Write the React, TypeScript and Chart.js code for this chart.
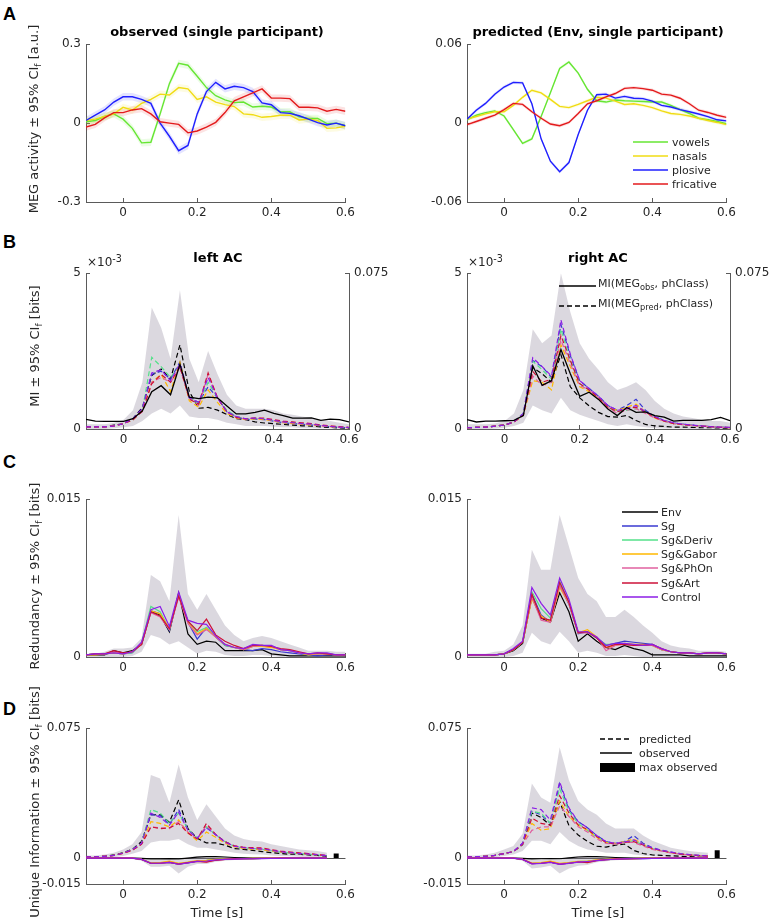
import React, { useEffect, useRef } from 'react';
import { Chart, registerables } from 'chart.js';

Chart.register(...registerables);

// ---------- shared axes ----------
const TIME = [-0.1,-0.075,-0.05,-0.025,0,0.025,0.05,0.075,0.1,0.125,0.15,0.175,0.2,0.225,0.25,0.275,0.3,0.325,0.35,0.375,0.4,0.425,0.45,0.475,0.5,0.525,0.55,0.575,0.6];
const TIME_D = [-0.1,-0.075,-0.05,-0.025,0,0.025,0.05,0.075,0.1,0.125,0.15,0.175,0.2,0.225,0.25,0.275,0.3,0.325,0.35,0.375,0.4,0.425,0.45,0.475,0.5,0.525,0.55];
const X_TICKS = [0, 0.2, 0.4, 0.6];
const X_TICK_LABELS = ['0', '0.2', '0.4', '0.6'];

// ---------- panel A : phoneme classes ----------
const PH_CLASSES = ['vowels', 'nasals', 'plosive', 'fricative'];
const PH_COLORS = ['#66e633', '#f0dc14', '#1f1fff', '#e31a1c'];
const obsVowels = [0.005,0.01,0.025,0.035,0.015,-0.02,-0.075,-0.073,0.035,0.15,0.227,0.22,0.178,0.135,0.104,0.088,0.078,0.08,0.061,0.064,0.061,0.043,0.043,0.024,0.018,0.018,-0.002,0,-0.01];
const obsNasals = [0.01,0.015,0.025,0.035,0.06,0.05,0.075,0.09,0.11,0.107,0.135,0.13,0.09,0.1,0.08,0.07,0.063,0.035,0.032,0.022,0.025,0.03,0.03,0.012,0.015,0.01,-0.02,-0.018,-0.012];
const obsPlosive = [0.01,0.03,0.05,0.08,0.1,0.1,0.09,0.075,0,-0.05,-0.105,-0.085,0.035,0.12,0.155,0.13,0.14,0.135,0.12,0.077,0.07,0.04,0.037,0.028,0.015,0.002,-0.007,0,-0.01];
const obsFricative = [-0.015,-0.005,0.02,0.04,0.04,0.05,0.055,0.035,0.005,0,-0.005,-0.037,-0.03,-0.015,0.003,0.04,0.085,0.1,0.115,0.13,0.095,0.095,0.093,0.06,0.06,0.058,0.045,0.052,0.045];
const predVowels = [0.0025,0.006,0.008,0.0093,0.0054,-0.005,-0.0154,-0.012,0.005,0.023,0.0416,0.0465,0.038,0.0257,0.017,0.016,0.0176,0.017,0.0167,0.0164,0.016,0.016,0.0135,0.0103,0.0073,0.0037,0.0025,0.0012,-0.0005];
const predNasals = [0.003,0.005,0.007,0.0086,0.0086,0.0135,0.0196,0.025,0.023,0.018,0.0127,0.0118,0.0142,0.017,0.0196,0.019,0.0167,0.0142,0.0147,0.0135,0.0118,0.0093,0.0073,0.0066,0.0054,0.0037,0.002,0.0005,-0.0012];
const predPlosive = [0.003,0.0098,0.015,0.022,0.0274,0.031,0.0306,0.0147,-0.012,-0.029,-0.037,-0.03,-0.0086,0.0098,0.0216,0.022,0.019,0.0203,0.0189,0.0186,0.0167,0.0135,0.0122,0.0103,0.0086,0.0069,0.0049,0.0025,0.0017];
const predFricative = [-0.0012,0.0012,0.0037,0.006,0.0103,0.015,0.0142,0.0086,0.0037,-0.0007,-0.002,0.0005,0.0073,0.0147,0.017,0.02,0.0225,0.0264,0.027,0.0262,0.025,0.022,0.0213,0.0189,0.0147,0.0098,0.0081,0.006,0.0044];
const CI_OBS = 0.014;
const CI_PRED = 0.0013;

// ---------- models ----------
const MODELS = ['Env', 'Sg', 'Sg&Deriv', 'Sg&Gabor', 'Sg&PhOn', 'Sg&Art', 'Control'];
const MODEL_COLORS = ['#000000', '#3a3ad0', '#55e08a', '#ffb800', '#e0609f', '#cc1238', '#8c1ee6'];

// ---------- panel B : MI (obs in 1e-3 bits, pred in bits) ----------
const miObsLeft = [0.31,0.255,0.245,0.245,0.245,0.33,0.585,1.2,1.39,1.1,2.08,1.02,0.975,1.02,1.0,0.74,0.485,0.485,0.535,0.605,0.5,0.43,0.35,0.35,0.36,0.28,0.32,0.3,0.225];
const miPredLeft_Env = [0.001,0.001,0.001,0.0019,0.0026,0.005,0.0104,0.0258,0.0289,0.024,0.0405,0.018,0.01,0.0104,0.0091,0.007,0.005,0.0045,0.0034,0.0029,0.0026,0.0022,0.0019,0.0015,0.0014,0.001,0.0008,0.0005,0.0003];
const miPredLeft_Sg = [0.001,0.001,0.001,0.0015,0.0026,0.005,0.0098,0.0263,0.0278,0.024,0.0323,0.015,0.0128,0.0203,0.015,0.0083,0.006,0.0045,0.0049,0.0045,0.0038,0.003,0.0026,0.0023,0.0019,0.0015,0.0011,0.0008,0.0006];
const miPredLeft_Deriv = [0.001,0.001,0.001,0.0015,0.0026,0.0045,0.009,0.0345,0.03,0.0248,0.0308,0.015,0.012,0.0225,0.015,0.009,0.006,0.0049,0.0053,0.0049,0.0041,0.0034,0.003,0.0026,0.0023,0.0017,0.0012,0.0009,0.0007];
const miPredLeft_Gabor = [0.001,0.001,0.001,0.0015,0.0026,0.0045,0.009,0.0225,0.0263,0.018,0.0323,0.0135,0.0105,0.0188,0.0128,0.0075,0.0053,0.0045,0.0049,0.0045,0.0038,0.003,0.0026,0.0023,0.0019,0.0015,0.0011,0.0008,0.0006];
const miPredLeft_PhOn = [0.001,0.001,0.001,0.0015,0.0026,0.0045,0.0085,0.0225,0.0248,0.0225,0.0293,0.015,0.0113,0.0263,0.015,0.0083,0.0056,0.0049,0.0053,0.0049,0.0041,0.0034,0.003,0.0026,0.0023,0.0017,0.0012,0.0009,0.0007];
const miPredLeft_Art = [0.001,0.001,0.001,0.0015,0.0026,0.0045,0.0085,0.0218,0.0263,0.0225,0.03,0.0143,0.012,0.027,0.015,0.0083,0.0056,0.0049,0.0053,0.0053,0.0045,0.0038,0.0034,0.003,0.0026,0.0019,0.0015,0.0011,0.0008];
const miPredLeft_Control = [0.001,0.001,0.001,0.0015,0.0026,0.005,0.0098,0.027,0.0285,0.0233,0.0315,0.015,0.0128,0.0248,0.015,0.0083,0.006,0.0049,0.0053,0.0049,0.0041,0.0034,0.003,0.0026,0.0023,0.0017,0.0012,0.0009,0.0007];
const miBandLeftUp = [0.0023,0.0023,0.0023,0.003,0.0045,0.009,0.0225,0.0585,0.0488,0.0338,0.0668,0.0338,0.0225,0.0375,0.0263,0.0165,0.0113,0.0098,0.0098,0.0098,0.009,0.0075,0.0068,0.006,0.0053,0.0045,0.0038,0.003,0.0023];
const miBandLeftLo = [0,0,0,0.0004,0.0008,0.0015,0.0038,0.0075,0.0098,0.0075,0.0113,0.006,0.0053,0.0053,0.0045,0.003,0.0023,0.0015,0.0015,0.0015,0.0011,0.0008,0.0008,0.0004,0.0004,0.0002,0.0002,0.0001,0];

const miObsRight = [0.3,0.225,0.25,0.25,0.265,0.275,0.43,2.03,1.4,1.55,2.55,1.77,1.05,1.18,0.95,0.64,0.43,0.69,0.535,0.55,0.43,0.38,0.25,0.275,0.275,0.275,0.3,0.37,0.265];
const miPredRight_Env = [0.0006,0.0008,0.0009,0.0014,0.0019,0.0034,0.0068,0.0296,0.0266,0.0225,0.0358,0.0203,0.015,0.0111,0.008,0.006,0.0057,0.0065,0.0041,0.0022,0.0015,0.0012,0.0009,0.0009,0.0008,0.0006,0.0006,0.0005,0.0003];
const miPredRight_Sg = [0.0006,0.0008,0.0009,0.0014,0.0019,0.0034,0.0075,0.033,0.03,0.0248,0.0503,0.0353,0.0233,0.0195,0.0158,0.0113,0.009,0.0113,0.0143,0.009,0.006,0.0041,0.003,0.0023,0.0019,0.0015,0.0011,0.0009,0.0008];
const miPredRight_Deriv = [0.0006,0.0008,0.0009,0.0014,0.0019,0.0034,0.0075,0.0327,0.0285,0.024,0.048,0.033,0.0218,0.0188,0.015,0.0105,0.0083,0.009,0.0098,0.0083,0.0056,0.0038,0.0026,0.0021,0.0017,0.0014,0.0011,0.0008,0.0007];
const miPredRight_Gabor = [0.0006,0.0008,0.0009,0.0014,0.0019,0.0034,0.0068,0.0233,0.0225,0.0188,0.0405,0.03,0.0203,0.018,0.015,0.0105,0.009,0.0105,0.012,0.0083,0.0053,0.0038,0.0026,0.0021,0.0017,0.0014,0.0011,0.0008,0.0007];
const miPredRight_PhOn = [0.0006,0.0008,0.0009,0.0014,0.0019,0.0034,0.0068,0.0255,0.021,0.0225,0.0428,0.0315,0.021,0.0188,0.015,0.0105,0.0075,0.009,0.0098,0.0075,0.0053,0.0038,0.0026,0.0021,0.0017,0.0014,0.0011,0.0008,0.0007];
const miPredRight_Art = [0.0006,0.0008,0.0009,0.0014,0.0019,0.0034,0.0068,0.0278,0.0225,0.024,0.045,0.033,0.0218,0.0188,0.015,0.0105,0.0083,0.0098,0.0105,0.0083,0.0056,0.0038,0.0026,0.0021,0.0017,0.0014,0.0011,0.0008,0.0007];
const miPredRight_Control = [0.0006,0.0008,0.0009,0.0014,0.0019,0.0034,0.0075,0.0343,0.03,0.0255,0.0525,0.036,0.0233,0.0195,0.0158,0.0113,0.009,0.0098,0.0113,0.0083,0.006,0.0041,0.003,0.0023,0.0019,0.0015,0.0011,0.0009,0.0008];
const miBandRightUp = [0.0023,0.0023,0.0023,0.0026,0.0038,0.0075,0.0188,0.048,0.0413,0.045,0.075,0.0563,0.0413,0.0338,0.0285,0.0225,0.0188,0.0203,0.0225,0.0188,0.0135,0.0098,0.0075,0.006,0.0053,0.0045,0.0038,0.0038,0.003];
const miBandRightLo = [0,0,0,0.0002,0.0006,0.0015,0.003,0.0113,0.009,0.0075,0.015,0.009,0.0068,0.0053,0.0038,0.0023,0.0015,0.0023,0.0015,0.0008,0.0004,0.0002,0.0002,0.0001,0,0,0,0,0];

// ---------- panel C : redundancy (bits) ----------
const redLeft_Env = [0.0002,0.0002,0.0002,0.0006,0.0004,0.0006,0.0012,0.0043,0.004,0.0024,0.0061,0.0022,0.0012,0.0015,0.0014,0.0006,0.0006,0.0006,0.0006,0.0007,0.0003,0.0002,0.0001,0.0001,0.0001,0.0001,0.0001,0.0001,0.0001];
const redLeft_Sg = [0.0002,0.0003,0.0003,0.0004,0.0003,0.0004,0.0013,0.0044,0.0041,0.0025,0.006,0.0033,0.0017,0.0028,0.0019,0.0011,0.0009,0.0007,0.0006,0.0008,0.0007,0.0005,0.0004,0.0003,0.0002,0.0001,0.0002,0.0002,0.0002];
const redLeft_Deriv = [0.0002,0.0003,0.0003,0.0004,0.0003,0.0004,0.0013,0.0048,0.0043,0.0026,0.0059,0.0034,0.0024,0.0028,0.002,0.0011,0.0009,0.0007,0.001,0.0011,0.001,0.0007,0.0006,0.0004,0.0002,0.0003,0.0003,0.0002,0.0002];
const redLeft_Gabor = [0.0002,0.0002,0.0003,0.0004,0.0003,0.0005,0.0013,0.0044,0.0041,0.0027,0.0059,0.0033,0.0022,0.0027,0.0019,0.0012,0.0009,0.0007,0.001,0.001,0.0009,0.0007,0.0006,0.0004,0.0002,0.0003,0.0003,0.0002,0.0002];
const redLeft_PhOn = [0.0002,0.0003,0.0003,0.0005,0.0003,0.0005,0.0012,0.0042,0.0038,0.0026,0.0057,0.0032,0.0021,0.0026,0.0019,0.0012,0.0009,0.0007,0.001,0.0011,0.001,0.0007,0.0006,0.0004,0.0003,0.0003,0.0003,0.0002,0.0002];
const redLeft_Art = [0.0002,0.0003,0.0003,0.0006,0.0004,0.0005,0.0012,0.0043,0.0039,0.0027,0.0058,0.0034,0.0025,0.0036,0.0021,0.0015,0.0011,0.0008,0.0011,0.0011,0.001,0.0008,0.0007,0.0005,0.0003,0.0004,0.0003,0.0002,0.0002];
const redLeft_Control = [0.0002,0.0003,0.0003,0.0004,0.0003,0.0005,0.0014,0.0045,0.0048,0.0029,0.0062,0.0035,0.0032,0.0031,0.002,0.0012,0.0009,0.0008,0.0012,0.0011,0.0011,0.0007,0.0006,0.0004,0.0003,0.0004,0.0004,0.0002,0.0002];
const redBandLeftUp = [0.0003,0.0003,0.0005,0.0008,0.0008,0.0009,0.0018,0.0078,0.0072,0.0053,0.0135,0.006,0.0045,0.006,0.0045,0.003,0.0021,0.0015,0.0018,0.002,0.0018,0.0015,0.0012,0.0009,0.0006,0.0006,0.0006,0.0005,0.0005];
const redBandLeftLo = [0,0,0,0,0,0.0001,0.0005,0.0021,0.0018,0.0012,0.0015,0.0009,0.0003,0.0006,0.0005,0.0002,0.0001,0.0001,0.0002,0.0002,0.0001,0,0,0,0,0,0,0,0];

const redRight_Env = [0.0002,0.0002,0.0002,0.0002,0.0003,0.0006,0.0013,0.0057,0.0037,0.0033,0.0061,0.0043,0.0015,0.0022,0.0015,0.0009,0.0007,0.0011,0.0008,0.0006,0.0002,0.0002,0.0002,0.0002,0.0001,0.0001,0.0001,0.0001,0.0001];
const redRight_Sg = [0.0002,0.0002,0.0002,0.0002,0.0003,0.0007,0.0014,0.006,0.004,0.0033,0.0068,0.005,0.0022,0.0024,0.0018,0.0011,0.0013,0.0015,0.0014,0.0013,0.0012,0.0007,0.0005,0.0004,0.0004,0.0003,0.0004,0.0004,0.0003];
const redRight_Deriv = [0.0002,0.0002,0.0002,0.0002,0.0003,0.0007,0.0014,0.0062,0.0046,0.0037,0.0072,0.0052,0.0023,0.0024,0.0018,0.0012,0.0012,0.0012,0.0011,0.0011,0.0011,0.0007,0.0005,0.0004,0.0004,0.0003,0.0004,0.0004,0.0003];
const redRight_Gabor = [0.0002,0.0002,0.0002,0.0002,0.0003,0.0007,0.0014,0.0055,0.0039,0.0033,0.0066,0.0051,0.0023,0.0026,0.0019,0.0009,0.0011,0.0013,0.0012,0.0012,0.0011,0.0007,0.0005,0.0004,0.0004,0.0003,0.0004,0.0004,0.0003];
const redRight_PhOn = [0.0002,0.0002,0.0002,0.0002,0.0003,0.0007,0.0014,0.0057,0.0035,0.0033,0.0068,0.0051,0.0023,0.0023,0.0019,0.0006,0.0011,0.0012,0.0011,0.0011,0.0011,0.0007,0.0005,0.0004,0.0004,0.0003,0.0004,0.0004,0.0003];
const redRight_Art = [0.0002,0.0002,0.0002,0.0002,0.0003,0.0007,0.0014,0.006,0.0037,0.0035,0.0071,0.0052,0.0023,0.0024,0.0018,0.0009,0.0012,0.0012,0.0011,0.0011,0.0012,0.0008,0.0005,0.0004,0.0004,0.0003,0.0004,0.0004,0.0003];
const redRight_Control = [0.0002,0.0002,0.0002,0.0002,0.0003,0.0008,0.0015,0.0066,0.0051,0.004,0.0075,0.0055,0.0024,0.0024,0.0019,0.0011,0.0013,0.0013,0.0012,0.0011,0.0012,0.0008,0.0005,0.0004,0.0004,0.0003,0.0004,0.0004,0.0003];
const redBandRightUp = [0.0003,0.0003,0.0003,0.0005,0.0006,0.0012,0.003,0.0102,0.0083,0.0083,0.0135,0.0105,0.0075,0.006,0.0053,0.0038,0.0038,0.0045,0.0038,0.003,0.0023,0.0015,0.0011,0.0009,0.0008,0.0006,0.0006,0.0006,0.0005];
const redBandRightLo = [0,0,0,0,0,0.0001,0.0004,0.0023,0.0015,0.0012,0.0024,0.0015,0.0004,0.0006,0.0004,0.0001,0.0001,0.0002,0.0001,0,0,0,0,0,0,0,0,0,0];

// ---------- panel D : unique information (bits) ----------
const uniPredLeft_Env = [0.0007,0.0007,0.001,0.0018,0.003,0.005,0.0096,0.025,0.025,0.0207,0.0336,0.017,0.0114,0.0087,0.0087,0.0074,0.0055,0.005,0.0044,0.0037,0.0031,0.0026,0.0022,0.0022,0.0018,0.0015,0.0011];
const uniPredLeft_Sg = [0.0007,0.0007,0.001,0.0015,0.0028,0.0048,0.0085,0.025,0.0245,0.0195,0.028,0.0165,0.0115,0.0175,0.0135,0.0095,0.007,0.006,0.0055,0.005,0.0042,0.0035,0.003,0.0025,0.0022,0.0018,0.0012];
const uniPredLeft_Deriv = [0.0007,0.0007,0.001,0.0015,0.0028,0.0048,0.0085,0.028,0.026,0.02,0.026,0.0165,0.0115,0.018,0.0135,0.0095,0.0068,0.0058,0.0055,0.005,0.0042,0.0035,0.003,0.0025,0.0022,0.0018,0.0012];
const uniPredLeft_Gabor = [0.0007,0.0007,0.001,0.0015,0.0027,0.0045,0.0082,0.021,0.02,0.018,0.022,0.0145,0.01,0.015,0.012,0.0085,0.0065,0.0055,0.0052,0.0048,0.004,0.0034,0.003,0.0025,0.0022,0.0018,0.0012];
const uniPredLeft_PhOn = [0.0007,0.0007,0.001,0.0015,0.0027,0.0045,0.008,0.018,0.0175,0.017,0.021,0.015,0.011,0.019,0.0135,0.009,0.007,0.006,0.0058,0.0055,0.0045,0.0038,0.0033,0.0028,0.0025,0.002,0.0014];
const uniPredLeft_Art = [0.0007,0.0007,0.001,0.0015,0.0027,0.0045,0.008,0.018,0.017,0.0175,0.02,0.0145,0.011,0.02,0.0135,0.0095,0.007,0.0062,0.006,0.0058,0.0048,0.004,0.0035,0.003,0.0026,0.002,0.0014];
const uniPredLeft_Control = [0.0007,0.0007,0.001,0.0015,0.0028,0.0048,0.0085,0.026,0.0235,0.019,0.0265,0.016,0.0115,0.0175,0.0135,0.0092,0.0068,0.006,0.0055,0.0052,0.0045,0.0036,0.0031,0.0026,0.0023,0.0019,0.0013];
const uniObsLeft_Env = [0,0,0,0,0,0,-0.0002,-0.0005,-0.0005,-0.0003,-0.0005,0,0.0005,0.0008,0.0008,0.0006,0.0003,0.0001,0,0,0,0,0,0,0,0,0];
const uniObsLeft_Sg = [0,0,0,0,0,0,-0.0008,-0.003,-0.003,-0.0025,-0.0035,-0.0028,-0.0018,-0.0015,-0.001,-0.0007,-0.0005,-0.0004,-0.0003,-0.0002,-0.0002,-0.0001,-0.0001,-0.0001,0,0,0];
const uniObsLeft_Deriv = [0,0,0,0,0,0,-0.0007,-0.0028,-0.0028,-0.0022,-0.0032,-0.0025,-0.0017,-0.0014,-0.0009,-0.0006,-0.0004,-0.0003,-0.0003,-0.0002,-0.0002,-0.0001,-0.0001,0,0,0,0];
const uniObsLeft_Gabor = [0,0,0,0,0,0,-0.0007,-0.0028,-0.0026,-0.0018,-0.003,-0.0024,-0.0015,-0.0013,-0.0008,-0.0006,-0.0004,-0.0003,-0.0002,-0.0002,-0.0001,-0.0001,0,0,0,0,0];
const uniObsLeft_PhOn = [0,0,0,0,0,0,-0.0008,-0.003,-0.0029,-0.0024,-0.0034,-0.0026,-0.0018,-0.0022,-0.0012,-0.0008,-0.0005,-0.0004,-0.0003,-0.0002,-0.0002,-0.0001,-0.0001,0,0,0,0];
const uniObsLeft_Art = [0,0,0,0,0,0,-0.0008,-0.0031,-0.003,-0.0025,-0.0035,-0.0027,-0.0019,-0.0024,-0.0013,-0.0008,-0.0005,-0.0004,-0.0003,-0.0002,-0.0002,-0.0001,-0.0001,0,0,0,0];
const uniObsLeft_Control = [0,0,0,0,0,0,-0.0008,-0.003,-0.003,-0.0025,-0.0036,-0.0028,-0.0019,-0.0017,-0.0011,-0.0008,-0.0006,-0.0005,-0.0004,-0.0003,-0.0002,-0.0002,-0.0001,-0.0001,0,0,0];
const uniPredBandLeftUp = [0.0015,0.0015,0.002,0.003,0.005,0.008,0.015,0.048,0.046,0.032,0.054,0.035,0.022,0.031,0.024,0.017,0.013,0.011,0.01,0.0095,0.008,0.007,0.006,0.005,0.0045,0.004,0.003];
const uniPredBandLeftLo = [0,0,0.0002,0.0005,0.0012,0.0025,0.004,0.009,0.01,0.01,0.011,0.008,0.006,0.006,0.005,0.004,0.003,0.0025,0.0022,0.002,0.0015,0.0012,0.001,0.0008,0.0006,0.0005,0.0003];
const uniObsBandLeftUp = [0.0005,0.0005,0.0005,0.0005,0.0005,0.0005,0,-0.001,-0.001,-0.0005,-0.0008,0.0005,0.0012,0.0012,0.001,0.0008,0.0006,0.0004,0.0003,0.0002,0.0002,0.0002,0.0002,0.0001,0.0001,0.0001,0.0001];
const uniObsBandLeftLo = [-0.0005,-0.0005,-0.0005,-0.0005,-0.0005,-0.0006,-0.0015,-0.005,-0.005,-0.0045,-0.009,-0.005,-0.0035,-0.0035,-0.0022,-0.0016,-0.0012,-0.001,-0.0008,-0.0006,-0.0005,-0.0004,-0.0003,-0.0003,-0.0002,-0.0002,-0.0002];

const uniPredRight_Env = [0.0007,0.0008,0.001,0.0015,0.0026,0.0037,0.0077,0.026,0.0234,0.0188,0.0326,0.0188,0.0133,0.0096,0.0068,0.0063,0.0074,0.0081,0.0044,0.0026,0.0018,0.0015,0.0013,0.001,0.0008,0.0006,0.0004];
const uniPredRight_Sg = [0.0007,0.0008,0.001,0.0015,0.0026,0.0037,0.0085,0.027,0.025,0.02,0.043,0.028,0.021,0.0175,0.013,0.0095,0.0085,0.0095,0.013,0.0085,0.006,0.0045,0.0035,0.0025,0.002,0.0015,0.0012];
const uniPredRight_Deriv = [0.0007,0.0008,0.001,0.0015,0.0026,0.0037,0.008,0.027,0.026,0.02,0.04,0.027,0.02,0.016,0.012,0.009,0.008,0.009,0.01,0.0075,0.0055,0.0042,0.0032,0.0023,0.0018,0.0014,0.0011];
const uniPredRight_Gabor = [0.0007,0.0008,0.001,0.0015,0.0026,0.0037,0.008,0.02,0.016,0.017,0.033,0.024,0.019,0.016,0.012,0.009,0.0085,0.0095,0.011,0.008,0.0055,0.0042,0.0032,0.0023,0.0018,0.0014,0.0011];
const uniPredRight_PhOn = [0.0007,0.0008,0.001,0.0015,0.0026,0.0037,0.008,0.016,0.018,0.018,0.03,0.024,0.018,0.015,0.011,0.0085,0.008,0.009,0.009,0.007,0.005,0.004,0.003,0.0022,0.0018,0.0014,0.001];
const uniPredRight_Art = [0.0007,0.0008,0.001,0.0015,0.0026,0.0037,0.008,0.023,0.02,0.019,0.036,0.026,0.019,0.0165,0.0125,0.009,0.008,0.009,0.0095,0.0075,0.0055,0.0042,0.0032,0.0023,0.0018,0.0014,0.0011];
const uniPredRight_Control = [0.0007,0.0008,0.001,0.0015,0.0026,0.0037,0.0085,0.029,0.028,0.022,0.044,0.029,0.021,0.0175,0.013,0.0095,0.0085,0.0092,0.0105,0.008,0.0058,0.0044,0.0034,0.0025,0.002,0.0015,0.0012];
const uniObsRight_Env = [0,0,0,0,0,0,-0.0002,-0.0005,-0.0004,-0.0003,-0.0004,0.0001,0.0006,0.0008,0.0008,0.0006,0.0003,0.0001,0,0,0,0,0,0,0,0,0];
const uniObsRight_Sg = [0,0,0,0,0,0,-0.0008,-0.0033,-0.003,-0.0024,-0.0036,-0.003,-0.0023,-0.002,-0.0014,-0.0009,-0.0006,-0.0005,-0.0004,-0.0003,-0.0002,-0.0002,-0.0001,-0.0001,0,0,0];
const uniObsRight_Deriv = [0,0,0,0,0,0,-0.0007,-0.003,-0.0028,-0.0022,-0.0033,-0.0027,-0.002,-0.0018,-0.0012,-0.0008,-0.0005,-0.0004,-0.0003,-0.0002,-0.0002,-0.0001,-0.0001,0,0,0,0];
const uniObsRight_Gabor = [0,0,0,0,0,0,-0.0007,-0.0029,-0.0027,-0.0018,-0.0031,-0.0026,-0.0019,-0.0017,-0.0011,-0.0007,-0.0005,-0.0004,-0.0003,-0.0002,-0.0001,-0.0001,0,0,0,0,0];
const uniObsRight_PhOn = [0,0,0,0,0,0,-0.0008,-0.0031,-0.0029,-0.0023,-0.0034,-0.0029,-0.0022,-0.0024,-0.0014,-0.0009,-0.0006,-0.0004,-0.0003,-0.0002,-0.0002,-0.0001,-0.0001,0,0,0,0];
const uniObsRight_Art = [0,0,0,0,0,0,-0.0008,-0.0032,-0.003,-0.0024,-0.0036,-0.003,-0.0023,-0.0027,-0.0015,-0.0009,-0.0006,-0.0005,-0.0003,-0.0002,-0.0002,-0.0001,-0.0001,0,0,0,0];
const uniObsRight_Control = [0,0,0,0,0,0,-0.0008,-0.0034,-0.0031,-0.0025,-0.0037,-0.0031,-0.0024,-0.002,-0.0015,-0.001,-0.0007,-0.0005,-0.0004,-0.0003,-0.0002,-0.0002,-0.0001,-0.0001,0,0,0];
const uniPredBandRightUp = [0.0015,0.0015,0.002,0.003,0.005,0.007,0.014,0.043,0.035,0.032,0.064,0.045,0.033,0.028,0.025,0.02,0.017,0.017,0.017,0.013,0.01,0.008,0.006,0.005,0.004,0.0035,0.003];
const uniPredBandRightLo = [0,0,0.0002,0.0005,0.0012,0.002,0.004,0.01,0.01,0.008,0.015,0.01,0.007,0.005,0.004,0.003,0.003,0.003,0.002,0.0015,0.001,0.0008,0.0006,0.0005,0.0004,0.0003,0.0002];
const uniObsBandRightUp = [0.0005,0.0005,0.0005,0.0005,0.0005,0.0005,0,-0.0008,-0.001,-0.0005,-0.0008,0.0004,0.0012,0.0013,0.0011,0.0008,0.0006,0.0004,0.0003,0.0002,0.0002,0.0002,0.0002,0.0001,0.0001,0.0001,0.0001];
const uniObsBandRightLo = [-0.0005,-0.0005,-0.0005,-0.0005,-0.0005,-0.0006,-0.0016,-0.006,-0.0055,-0.0045,-0.009,-0.006,-0.0045,-0.004,-0.0025,-0.0018,-0.0013,-0.001,-0.0008,-0.0006,-0.0005,-0.0004,-0.0003,-0.0003,-0.0002,-0.0002,-0.0002];
const MAX_OBS_TIME = 0.575;
const maxObsLeft = 0.0026;
const maxObsRight = 0.0045;

// ---------- styling ----------
const FONT = '"DejaVu Sans", sans-serif';
const TXT = '#262626';
const AX = '#5a5a5a';
const BAND = 'rgba(135,125,150,0.3)';

const pts = (xs: number[], ys: number[]) => ys.map((y, i) => ({ x: xs[i], y }));

function line(xs: number[], ys: number[], color: string, opts: any = {}) {
  return {
    data: pts(xs, ys), borderColor: color, backgroundColor: color,
    borderWidth: opts.width ?? 1.3, borderDash: opts.dash ? [5, 3] : [],
    pointRadius: 0, fill: false, order: 0, yAxisID: opts.axis ?? 'y', tension: 0,
  };
}
function band(xs: number[], up: number[], lo: number[], color: string, axis = 'y') {
  return [
    { data: pts(xs, up), borderColor: 'rgba(0,0,0,0)', borderWidth: 0, backgroundColor: color, pointRadius: 0, fill: '+1', order: 5, yAxisID: axis },
    { data: pts(xs, lo), borderColor: 'rgba(0,0,0,0)', borderWidth: 0, backgroundColor: 'rgba(0,0,0,0)', pointRadius: 0, fill: false, order: 5, yAxisID: axis },
  ];
}
const hexA = (hex: string, a: number) => {
  const n = parseInt(hex.slice(1), 16);
  return `rgba(${(n >> 16) & 255},${(n >> 8) & 255},${n & 255},${a})`;
};

// ---------- datasets per panel ----------
const obsA = [obsVowels, obsNasals, obsPlosive, obsFricative];
const predA = [predVowels, predNasals, predPlosive, predFricative];
function phonemeSets(series: number[][], ci: number) {
  const bands: any[] = [];
  const lines: any[] = [];
  series.forEach((s, i) => {
    bands.push(...band(TIME, s.map(v => v + ci), s.map(v => v - ci), hexA(PH_COLORS[i], 0.12)));
    lines.push(line(TIME, s, PH_COLORS[i], { width: 1.4 }));
  });
  return [...lines.reverse(), ...bands];
}

function modelLines(xs: number[], series: number[][], dash: boolean, axis = 'y') {
  return series.map((s, i) => line(xs, s, MODEL_COLORS[i], { dash, axis, width: 1.2 })).reverse();
}

const miPredLeft = [miPredLeft_Env, miPredLeft_Sg, miPredLeft_Deriv, miPredLeft_Gabor, miPredLeft_PhOn, miPredLeft_Art, miPredLeft_Control];
const miPredRight = [miPredRight_Env, miPredRight_Sg, miPredRight_Deriv, miPredRight_Gabor, miPredRight_PhOn, miPredRight_Art, miPredRight_Control];
const redLeft = [redLeft_Env, redLeft_Sg, redLeft_Deriv, redLeft_Gabor, redLeft_PhOn, redLeft_Art, redLeft_Control];
const redRight = [redRight_Env, redRight_Sg, redRight_Deriv, redRight_Gabor, redRight_PhOn, redRight_Art, redRight_Control];
const uniPredLeft = [uniPredLeft_Env, uniPredLeft_Sg, uniPredLeft_Deriv, uniPredLeft_Gabor, uniPredLeft_PhOn, uniPredLeft_Art, uniPredLeft_Control];
const uniObsLeft = [uniObsLeft_Env, uniObsLeft_Sg, uniObsLeft_Deriv, uniObsLeft_Gabor, uniObsLeft_PhOn, uniObsLeft_Art, uniObsLeft_Control];
const uniPredRight = [uniPredRight_Env, uniPredRight_Sg, uniPredRight_Deriv, uniPredRight_Gabor, uniPredRight_PhOn, uniPredRight_Art, uniPredRight_Control];
const uniObsRight = [uniObsRight_Env, uniObsRight_Sg, uniObsRight_Deriv, uniObsRight_Gabor, uniObsRight_PhOn, uniObsRight_Art, uniObsRight_Control];

function miSets(obs: number[], pred: number[][], up: number[], lo: number[]) {
  return [
    line(TIME, obs, '#000000', { width: 1.3 }),
    ...modelLines(TIME, pred, true, 'y2'),
    ...band(TIME, up, lo, BAND, 'y2'),
  ];
}
function redSets(series: number[][], up: number[], lo: number[]) {
  return [...modelLines(TIME, series, false), ...band(TIME, up, lo, BAND)];
}
function uniSets(pred: number[][], obs: number[][], pUp: number[], pLo: number[], oUp: number[], oLo: number[], maxObs: number) {
  return [
    { data: [{ x: MAX_OBS_TIME, y: 0 }, { x: MAX_OBS_TIME, y: maxObs }], borderColor: '#000', borderWidth: 5, borderCapStyle: 'butt', pointRadius: 0, fill: false, order: 0 },
    ...modelLines(TIME_D, obs, false),
    ...modelLines(TIME_D, pred, true),
    ...band(TIME_D, pUp, pLo, BAND),
    ...band(TIME_D, oUp, oLo, BAND),
  ];
}

type Axis = { min: number; max: number; ticks: number[]; labels: string[] };
type Panel = { id: string; L: number; T: number; W: number; H: number; datasets: any[]; y: Axis; y2?: Axis; zeroLine?: boolean };

const PANELS: Panel[] = [
  { id: 'AL', L: 86, T: 38, W: 263, H: 164, datasets: phonemeSets(obsA, CI_OBS), y: { min: -0.3, max: 0.3, ticks: [-0.3, 0, 0.3], labels: ['-0.3', '0', '0.3'] } },
  { id: 'AR', L: 467, T: 38, W: 263, H: 164, datasets: phonemeSets(predA, CI_PRED), y: { min: -0.06, max: 0.06, ticks: [-0.06, 0, 0.06], labels: ['-0.06', '0', '0.06'] } },
  { id: 'BL', L: 86, T: 267, W: 263, H: 162, datasets: miSets(miObsLeft, miPredLeft, miBandLeftUp, miBandLeftLo), y: { min: 0, max: 5, ticks: [0, 5], labels: ['0', '5'] }, y2: { min: 0, max: 0.075, ticks: [0, 0.075], labels: ['0', '0.075'] } },
  { id: 'BR', L: 467, T: 267, W: 263, H: 162, datasets: miSets(miObsRight, miPredRight, miBandRightUp, miBandRightLo), y: { min: 0, max: 5, ticks: [0, 5], labels: ['0', '5'] }, y2: { min: 0, max: 0.075, ticks: [0, 0.075], labels: ['0', '0.075'] } },
  { id: 'CL', L: 86, T: 493, W: 263, H: 164, datasets: redSets(redLeft, redBandLeftUp, redBandLeftLo), y: { min: 0, max: 0.015, ticks: [0, 0.015], labels: ['0', '0.015'] } },
  { id: 'CR', L: 467, T: 493, W: 263, H: 164, datasets: redSets(redRight, redBandRightUp, redBandRightLo), y: { min: 0, max: 0.015, ticks: [0, 0.015], labels: ['0', '0.015'] } },
  { id: 'DL', L: 86, T: 722, W: 263, H: 162, zeroLine: true, datasets: uniSets(uniPredLeft, uniObsLeft, uniPredBandLeftUp, uniPredBandLeftLo, uniObsBandLeftUp, uniObsBandLeftLo, maxObsLeft), y: { min: -0.015, max: 0.075, ticks: [-0.015, 0, 0.075], labels: ['-0.015', '0', '0.075'] } },
  { id: 'DR', L: 467, T: 722, W: 263, H: 162, zeroLine: true, datasets: uniSets(uniPredRight, uniObsRight, uniPredBandRightUp, uniPredBandRightLo, uniObsBandRightUp, uniObsBandRightLo, maxObsRight), y: { min: -0.015, max: 0.075, ticks: [-0.015, 0, 0.075], labels: ['-0.015', '0', '0.075'] } },
];

const PAD_L = 60, PAD_T = 10, X_H = 30;

function ChartPanel({ p }: { p: Panel }) {
  const ref = useRef<HTMLCanvasElement>(null);
  const rightW = p.y2 ? 50 : 14;
  const cw = p.W + PAD_L + rightW;
  const ch = p.H + PAD_T + X_H;
  useEffect(() => {
    if (!ref.current) return;
    const tickFont = { family: FONT, size: 12 };
    const scales: any = {
      x: {
        type: 'linear', min: -0.1, max: 0.6,
        afterBuildTicks: (s: any) => { s.ticks = X_TICKS.map(v => ({ value: v })); },
        afterFit: (s: any) => { s.height = X_H; },
        ticks: { font: tickFont, color: TXT, padding: 8, maxRotation: 0, autoSkip: false, callback: (_v: any, i: number) => X_TICK_LABELS[i] },
        grid: { drawOnChartArea: false, drawTicks: true, tickLength: -4, tickColor: AX },
        border: { display: true, color: AX, width: 1 },
      },
      y: {
        type: 'linear', position: 'left', min: p.y.min, max: p.y.max,
        afterBuildTicks: (s: any) => { s.ticks = p.y.ticks.map(v => ({ value: v })); },
        afterFit: (s: any) => { s.width = PAD_L; },
        ticks: { font: tickFont, color: TXT, padding: 9, autoSkip: false, callback: (_v: any, i: number) => p.y.labels[i] },
        grid: p.zeroLine
          ? { drawOnChartArea: true, color: (c: any) => (c.tick && c.tick.value === 0 ? '#555555' : 'rgba(0,0,0,0)'), lineWidth: 1, drawTicks: true, tickLength: -4, tickColor: AX }
          : { drawOnChartArea: false, drawTicks: true, tickLength: -4, tickColor: AX },
        border: { display: true, color: AX, width: 1 },
      },
    };
    if (p.y2) {
      const a = p.y2;
      scales.y2 = {
        type: 'linear', position: 'right', min: a.min, max: a.max,
        afterBuildTicks: (s: any) => { s.ticks = a.ticks.map(v => ({ value: v })); },
        afterFit: (s: any) => { s.width = 45; },
        ticks: { font: tickFont, color: TXT, padding: 9, autoSkip: false, callback: (_v: any, i: number) => a.labels[i] },
        grid: { drawOnChartArea: false, drawTicks: true, tickLength: -4, tickColor: AX },
        border: { display: true, color: AX, width: 1, dash: [2, 2] },
      };
    }
    const chart = new Chart(ref.current, {
      type: 'line',
      data: { datasets: p.datasets },
      options: {
        responsive: false, animation: false, devicePixelRatio: 1, events: [],
        layout: { padding: { left: 0, top: PAD_T, right: p.y2 ? 5 : rightW, bottom: 0 } },
        plugins: { legend: { display: false }, tooltip: { enabled: false }, title: { display: false } },
        scales,
      } as any,
    });
    return () => chart.destroy();
  }, []);
  return (
    <canvas ref={ref} width={cw} height={ch}
      style={{ position: 'absolute', left: p.L - PAD_L, top: p.T - PAD_T, width: cw, height: ch }} />
  );
}

function Txt({ x, y, children, size = 12, bold = false, anchor = 'middle', rot = false, family = FONT }: any) {
  const tx = anchor === 'middle' ? '-50%' : anchor === 'end' ? '-100%' : '0';
  return (
    <div style={{
      position: 'absolute', left: x, top: y, whiteSpace: 'nowrap', lineHeight: 1,
      fontFamily: family, fontSize: size, fontWeight: bold ? 'bold' : 'normal', color: bold ? '#000' : TXT,
      transform: `translate(${tx},-50%)${rot ? ' rotate(-90deg)' : ''}`,
    }}>{children}</div>
  );
}

function LegLine({ x1, x2, y, color, dash = false, width = 1.5 }: any) {
  return (
    <svg style={{ position: 'absolute', left: x1, top: y - 3, overflow: 'visible' }} width={x2 - x1} height={6}>
      <line x1={0} y1={3} x2={x2 - x1} y2={3} stroke={color} strokeWidth={width} strokeDasharray={dash ? '5 3' : undefined} />
    </svg>
  );
}

const CI = () => <span>CI<sub style={{ fontSize: '70%', verticalAlign: '-0.25em' }}>f</sub></span>;
const LETTER_FONT = '"Liberation Sans", Arial, sans-serif';
const LEG_C_Y = [512, 526, 540, 554, 568, 583, 597];
const LEG_A_Y = [142, 156, 170, 184];

export default function App() {
  return (
    <div style={{ position: 'absolute', left: 0, top: 0, width: 771, height: 923, overflow: 'hidden', background: '#fff' }}>
      {PANELS.map(p => <ChartPanel key={p.id} p={p} />)}

      {/* panel letters */}
      <Txt x={3} y={14} size={18} bold anchor="start" family={LETTER_FONT}>A</Txt>
      <Txt x={3} y={242} size={18} bold anchor="start" family={LETTER_FONT}>B</Txt>
      <Txt x={3} y={462} size={18} bold anchor="start" family={LETTER_FONT}>C</Txt>
      <Txt x={3} y={709} size={18} bold anchor="start" family={LETTER_FONT}>D</Txt>

      {/* titles */}
      <Txt x={217} y={31} size={13} bold>observed (single participant)</Txt>
      <Txt x={598} y={31} size={13} bold>predicted (Env, single participant)</Txt>
      <Txt x={218} y={257} size={13} bold>left AC</Txt>
      <Txt x={598} y={257} size={13} bold>right AC</Txt>

      {/* y axis labels */}
      <Txt x={35} y={119} size={13} rot>MEG activity ± 95% <CI /> [a.u.]</Txt>
      <Txt x={36} y={346} size={13} rot>MI ± 95% <CI /> [bits]</Txt>
      <Txt x={36} y={576} size={13} rot>Redundancy ± 95% <CI /> [bits]</Txt>
      <Txt x={36} y={802} size={13} rot>Unique Information ± 95% <CI /> [bits]</Txt>

      {/* exponent labels */}
      <Txt x={87} y={261} size={12} anchor="start">×10<sup style={{ fontSize: '80%', verticalAlign: '0.45em' }}>-3</sup></Txt>
      <Txt x={468} y={261} size={12} anchor="start">×10<sup style={{ fontSize: '80%', verticalAlign: '0.45em' }}>-3</sup></Txt>

      {/* x labels */}
      <Txt x={217} y={912} size={13}>Time [s]</Txt>
      <Txt x={598} y={912} size={13}>Time [s]</Txt>

      {/* legend A */}
      {PH_CLASSES.map((c, i) => (
        <React.Fragment key={c}>
          <LegLine x1={633} x2={668} y={LEG_A_Y[i]} color={PH_COLORS[i]} width={1.4} />
          <Txt x={672} y={LEG_A_Y[i]} size={11} anchor="start">{c}</Txt>
        </React.Fragment>
      ))}

      {/* legend B */}
      <LegLine x1={559} x2={596} y={286} color="#000" />
      <Txt x={598} y={285} size={11} anchor="start">MI(MEG<sub style={{ fontSize: '75%', verticalAlign: '-0.35em' }}>obs</sub>, phClass)</Txt>
      <LegLine x1={559} x2={596} y={306} color="#000" dash />
      <Txt x={598} y={305} size={11} anchor="start">MI(MEG<sub style={{ fontSize: '75%', verticalAlign: '-0.35em' }}>pred</sub>, phClass)</Txt>

      {/* legend C */}
      {MODELS.map((m, i) => (
        <React.Fragment key={m}>
          <LegLine x1={622} x2={658} y={LEG_C_Y[i]} color={MODEL_COLORS[i]} width={1.4} />
          <Txt x={661} y={LEG_C_Y[i]} size={11} anchor="start">{m}</Txt>
        </React.Fragment>
      ))}

      {/* legend D */}
      <LegLine x1={600} x2={632} y={739} color="#000" dash />
      <Txt x={639} y={739} size={11} anchor="start">predicted</Txt>
      <LegLine x1={600} x2={632} y={753} color="#000" />
      <Txt x={639} y={753} size={11} anchor="start">observed</Txt>
      <div style={{ position: 'absolute', left: 600, top: 763, width: 35, height: 9, background: '#000' }} />
      <Txt x={639} y={767} size={11} anchor="start">max observed</Txt>
    </div>
  );
}
